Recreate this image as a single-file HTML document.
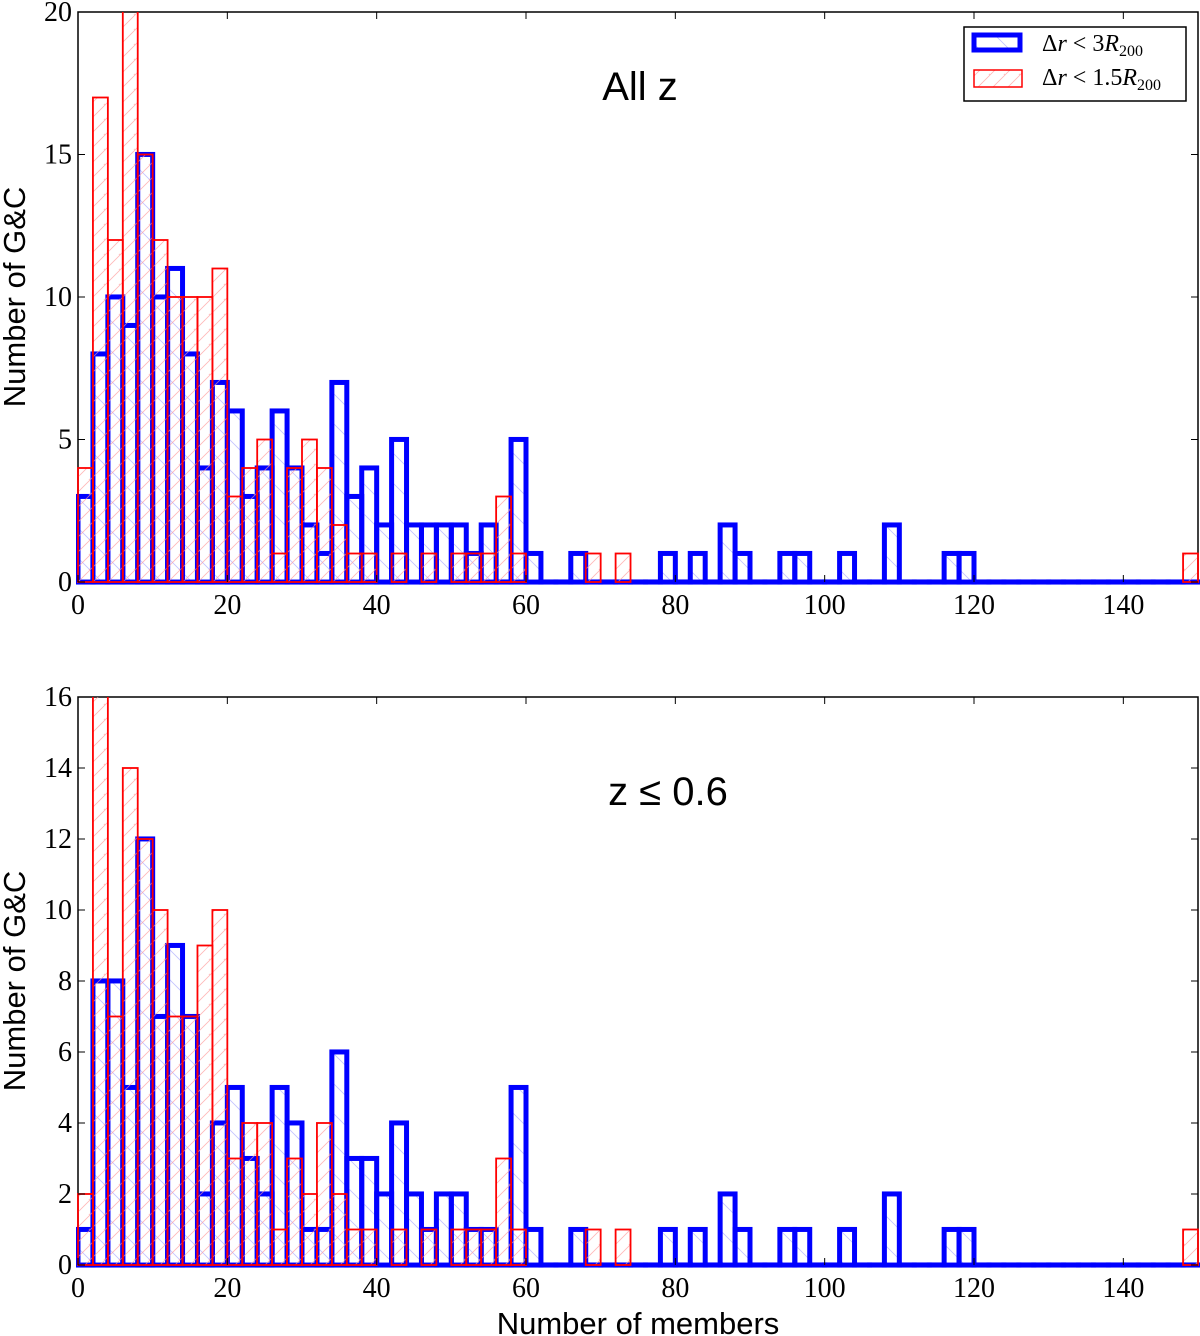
<!DOCTYPE html>
<html><head><meta charset="utf-8"><style>
html,body{margin:0;padding:0;background:#fff;}
svg{display:block;}
.tick{font-family:"Liberation Serif",serif;font-size:28px;fill:#000;}
.lab{font-family:"Liberation Sans",sans-serif;font-size:31px;fill:#000;}
.ttl{font-family:"Liberation Sans",sans-serif;font-size:40px;fill:#000;}
.leg{font-family:"Liberation Serif",serif;font-size:24px;font-style:italic;fill:#000;}
</style></head><body>
<svg id="chart" width="1200" height="1336" viewBox="0 0 1200 1336" xmlns="http://www.w3.org/2000/svg">
<defs>
<pattern id="hatchBlue" patternUnits="userSpaceOnUse" width="30" height="30"><path d="M0,0 L30,30 M-15,15 L15,45 M15,-15 L45,15" stroke="#99f" stroke-width="0.8" opacity="0.6"/></pattern>
<pattern id="hatchRed" patternUnits="userSpaceOnUse" width="15" height="15"><path d="M0,15 L15,0 M-7,7 L7,-7 M7,22 L22,7" stroke="#f99" stroke-width="0.8" opacity="0.7"/></pattern>
<clipPath id="clipTop"><rect x="76" y="12" width="1124" height="575"/></clipPath>
<clipPath id="clipBot"><rect x="76" y="697" width="1124" height="573"/></clipPath>
</defs>
<g id="top"></g>
<g id="bot"></g>
</svg>
<script>
const binEdgesStart = 0;
const binWidth = 2;
const nBins = 75;
const topBlue = [3,8,10,9,15,10,11,8,4,7,6,3,4,6,4,2,1,7,3,4,2,5,2,2,2,2,1,2,0,5,1,0,0,1,0,0,0,0,0,1,0,1,0,2,1,0,0,1,1,0,0,1,0,0,2,0,0,0,1,1];
const topRed = [4,17,12,22,15,12,10,10,10,11,3,4,5,1,4,5,4,2,1,1,0,1,0,1,0,1,1,1,3,1,0,0,0,0,1,0,1,0,0,0,0,0,0,0,0,0,0,0,0,0,0,0,0,0,0,0,0,0,0,0,0,0,0,0,0,0,0,0,0,0,0,0,0,0,1];
const botBlue = [1,8,8,5,12,7,9,7,2,4,5,3,2,5,4,1,1,6,3,3,2,4,2,1,2,2,1,1,0,5,1,0,0,1,0,0,0,0,0,1,0,1,0,2,1,0,0,1,1,0,0,1,0,0,2,0,0,0,1,1];
const botRed = [2,18,7,14,12,10,7,7,9,10,3,4,4,1,3,2,4,2,1,1,0,1,0,1,0,1,1,1,3,1,0,0,0,0,1,0,1,0,0,0,0,0,0,0,0,0,0,0,0,0,0,0,0,0,0,0,0,0,0,0,0,0,0,0,0,0,0,0,0,0,0,0,0,0,1];
const xTicks = [0,20,40,60,80,100,120,140];
const topYTicks = [0,5,10,15,20];
const botYTicks = [0,2,4,6,8,10,12,14,16];
const topTitle = "All z";
const botTitle = "z \u2264 0.6";
const NS = "http://www.w3.org/2000/svg";
function mk(tag, attrs, parent){const e=document.createElementNS(NS,tag);for(const k in attrs)e.setAttribute(k,attrs[k]);parent.appendChild(e);return e;}
function panel(g, y0, y1, ymax, blue, red, yTicks, clip, title, titleX, titleY){
  const xs = v => 78 + (v-0)*(1120/150);
  const ys = v => y1 - v*(y1-y0)/ymax;
  const frame = mk('rect',{x:78,y:y0,width:1120,height:y1-y0,fill:'none',stroke:'#000','stroke-width':1.5},g);
  
  
  const bars = mk('g',{'clip-path':'url(#'+clip+')'},g);
  for(let i=0;i<nBins;i++){
    const v = blue[i]||0; const xa=xs(binEdgesStart+i*binWidth), xb=xs(binEdgesStart+(i+1)*binWidth);
    const r = mk('rect',{x:xa,y:ys(v)-0.05,width:xb-xa,height:Math.max(ys(0)-ys(v),0)+0.1,fill:'url(#hatchBlue)',stroke:'#0000ff','stroke-width':5},bars);
    
    
  }
  for(let i=0;i<nBins;i++){
    const v = red[i]||0; if(v===0) continue;
    const xa=xs(binEdgesStart+i*binWidth), xb=xs(binEdgesStart+(i+1)*binWidth);
    const r = mk('rect',{x:xa,y:ys(v),width:xb-xa,height:ys(0)-ys(v),fill:'url(#hatchRed)',stroke:'#ff0000','stroke-width':1.8},bars);
    
    
  }
  xTicks.forEach(t=>{
    const x=xs(t);
    mk('line',{x1:x,x2:x,y1:y1,y2:y1-7,stroke:'#000','stroke-width':1},g);
    mk('line',{x1:x,x2:x,y1:y0,y2:y0+7,stroke:'#000','stroke-width':1},g);
    const tx = mk('text',{x:x,y:y1+32,'text-anchor':'middle',class:'tick'},g);
    tx.textContent=t;
    
    
  });
  yTicks.forEach(t=>{
    const y=ys(t);
    mk('line',{x1:78,x2:85,y1:y,y2:y,stroke:'#000','stroke-width':1},g);
    mk('line',{x1:1198,x2:1191,y1:y,y2:y,stroke:'#000','stroke-width':1},g);
    const tx = mk('text',{x:72,y:y+9,'text-anchor':'end',class:'tick'},g);
    tx.textContent=t;
    
    
  });
  const yl = mk('text',{x:0,y:0,'text-anchor':'middle',class:'lab',transform:'translate(25,'+((y0+y1)/2)+') rotate(-90)'},g);
  yl.textContent='Number of G&C';
  
  
  const tt = mk('text',{x:titleX,y:titleY,'text-anchor':'middle',class:'ttl'},g);
  tt.textContent=title;
  
  
}
panel(document.getElementById('top'),12,582,20,topBlue,topRed,topYTicks,'clipTop',topTitle,640,100);
panel(document.getElementById('bot'),697,1265,16,botBlue,botRed,botYTicks,'clipBot',botTitle,668,805);
const svg=document.getElementById('chart');
const xl = mk('text',{x:638,y:1334,'text-anchor':'middle',class:'lab'},svg);
xl.textContent='Number of members';


const leg = mk('g',{},svg);


mk('rect',{x:964,y:27,width:222,height:74,fill:'#fff',stroke:'#000','stroke-width':1.5},leg);
const s1=mk('rect',{x:974,y:35,width:46,height:15,fill:'url(#hatchBlue)',stroke:'#0000ff','stroke-width':5},leg);


const s2=mk('rect',{x:974,y:70,width:48,height:17,fill:'url(#hatchRed)',stroke:'#ff0000','stroke-width':1.5},leg);


const l1=mk('text',{x:1042,y:51,class:'leg'},leg);
l1.innerHTML='<tspan font-style="normal">Δ</tspan>r <tspan font-style="normal">&lt; 3</tspan>R<tspan font-size="16" dy="5" font-style="normal">200</tspan>';


const l2=mk('text',{x:1042,y:85,class:'leg'},leg);
l2.innerHTML='<tspan font-style="normal">Δ</tspan>r <tspan font-style="normal">&lt; 1.5</tspan>R<tspan font-size="16" dy="5" font-style="normal">200</tspan>';


</script>
</body></html>
